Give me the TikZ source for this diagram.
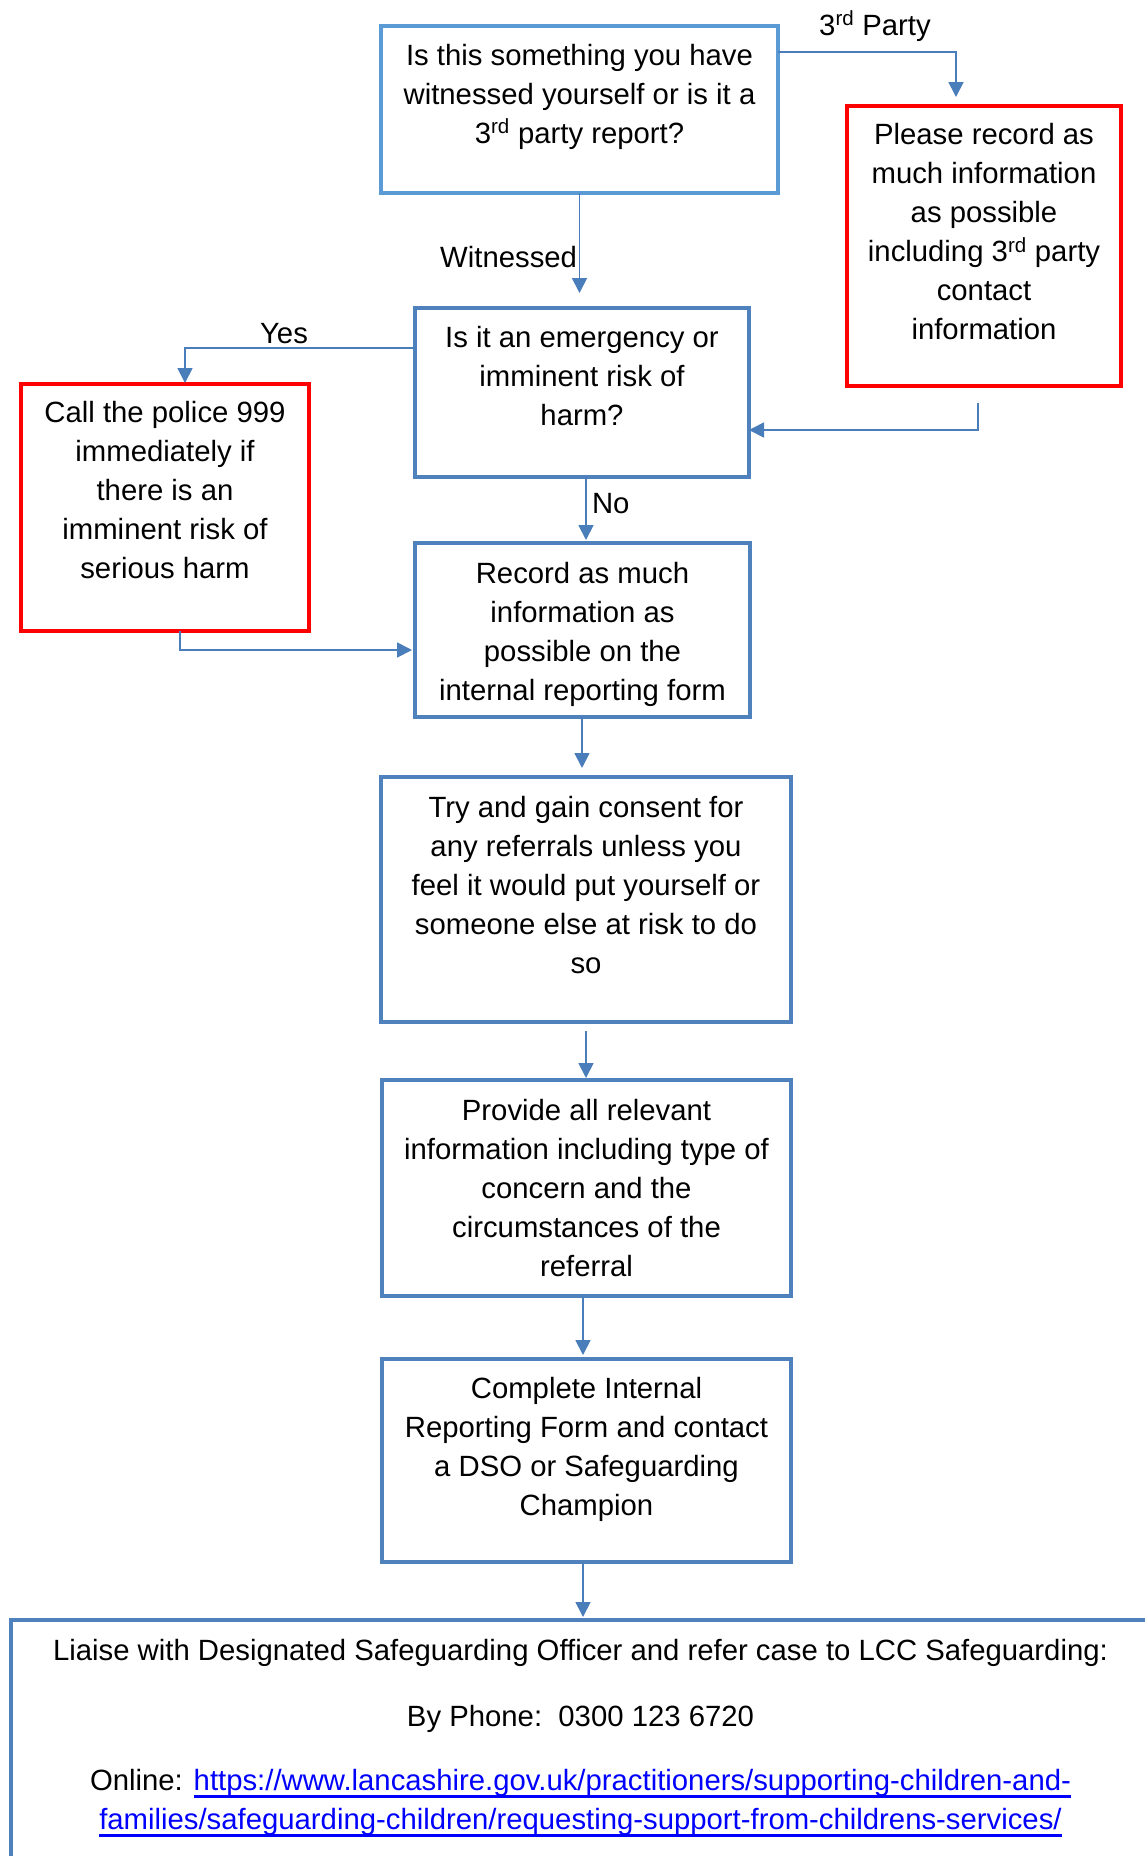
\documentclass[tikz,border=0pt]{standalone}
\usepackage{fontspec}
\setmainfont{Liberation Sans}
\usetikzlibrary{arrows.meta,calc}
\definecolor{bxblue}{HTML}{4F81BD}
\definecolor{bxlight}{HTML}{5B9BD5}
\definecolor{lnblue}{HTML}{4A7EBB}
\definecolor{lnkblue}{HTML}{0000FF}
\definecolor{bxred}{HTML}{FF0000}
\newcommand\bfs{\fontsize{29.3pt}{39pt}\selectfont}
\newcommand\bxt[4]{\parbox[c][#2][t]{#1}{\centering\vspace*{#3}\strut#4\par}}
\newcommand\lnk[1]{\leavevmode{\color{lnkblue}\setbox0\hbox{#1}\rlap{\rule[-8pt]{\wd0}{2.7pt}}\box0}}
\tikzset{
  bx/.style={draw=bxblue, line width=3.3pt, inner sep=0pt, outer sep=0pt, font=\bfs},
  bxl/.style={bx, draw=bxlight},
  rbx/.style={bx, draw=bxred, line width=4pt},
  conn/.style={draw=lnblue, line width=1.8pt, -{Triangle[length=15pt,width=15pt]}},
  lbl/.style={inner sep=0pt, outer sep=0pt, font=\bfs}
}
\begin{document}
\begin{tikzpicture}[x=1pt,y=-1pt]
\useasboundingbox (0,0) rectangle (1145,1856);
\clip (0,0) rectangle (1145,1856);
\fill[white] (0,0) rectangle (1145,1856);

% boxes
\node[bxl] (b1) at (579.5,109.5) {\bxt{397pt}{167pt}{11.7pt}{Is this something you have\\ witnessed yourself or is it a\\ 3\textsuperscript{rd} party report?}};
\node[rbx] (b2) at (984,246) {\bxt{274pt}{280pt}{11.2pt}{Please record as\\ much information\\ as possible\\ including 3\textsuperscript{rd} party\\ contact\\ information}};
\node[bx] (b3) at (582,392.5) {\bxt{334pt}{169pt}{11.7pt}{Is it an emergency or\\ imminent risk of\\ harm?}};
\node[rbx] (b4) at (165,507.5) {\bxt{288pt}{247pt}{11.2pt}{Call the police 999\\ immediately if\\ there is an\\ imminent risk of\\ serious harm}};
\node[bx] (b5) at (582.5,630) {\bxt{335pt}{174pt}{12.7pt}{Record as much\\ information as\\ possible on the\\ internal reporting form}};
\node[bx] (b6) at (586,899.5) {\bxt{410pt}{245pt}{12.7pt}{Try and gain consent for\\ any referrals unless you\\ feel it would put yourself or\\ someone else at risk to do\\ so}};
\node[bx] (b7) at (586.5,1188) {\bxt{409pt}{216pt}{12.7pt}{Provide all relevant\\ information including type of\\ concern and the\\ circumstances of the\\ referral}};
\node[bx] (b8) at (586.5,1460.5) {\bxt{409pt}{203pt}{11.7pt}{Complete Internal\\ Reporting Form and contact\\ a DSO or Safeguarding\\ Champion}};
\node[bx] (b9) at (580.5,1745) {\bxt{1139pt}{250pt}{12.7pt}{Liaise with Designated Safeguarding Officer and refer case to LCC Safeguarding:\\[27pt] By Phone:\ \ 0300 123 6720\\[25pt] Online: \lnk{https://www.lancashire.gov.uk/practitioners/supporting-children-and-}\\ \lnk{families/safeguarding-children/requesting-support-from-childrens-services/}}};

% labels
\node[lbl, anchor=base] (l3rd) at (875,35) {3\textsuperscript{rd} Party};
\node[lbl, anchor=base east] (lwit) at (577,267) {Witnessed};
\node[lbl, anchor=base] (lyes) at (284,343) {Yes};
\node[lbl, anchor=base west] (lno) at (592,513) {No};

% connectors
\draw[conn, shorten >=9pt] (b1.east |- 0,52) -| (b2.north -| 956,0);
\draw[conn, shorten >=15pt] (b1.south) -- (b1.south |- b3.north);
\draw[conn, shorten <=17pt] (b2.south -| 978,0) |- (b3.east |- 0,430);
\draw[conn, shorten >=1pt] (b3.west |- 0,348) -| (b4.north -| 185,0);
\draw[conn, shorten >=3pt] (b3.south -| 586,0) -- (b5.north -| 586,0);
\draw[conn, shorten >=3pt] (b4.south -| 180,0) |- (b5.west |- 0,650);
\draw[conn, shorten >=9pt] (b5.south -| 582,0) -- (b6.north -| 582,0);
\draw[conn, shorten <=9pt, shorten >=2pt] (b6.south -| 586,0) -- (b7.north -| 586,0);
\draw[conn, shorten >=4pt] (b7.south -| 583,0) -- (b8.north -| 583,0);
\draw[conn, shorten >=3pt] (b8.south -| 583,0) -- (b9.north -| 583,0);
\end{tikzpicture}
\end{document}
